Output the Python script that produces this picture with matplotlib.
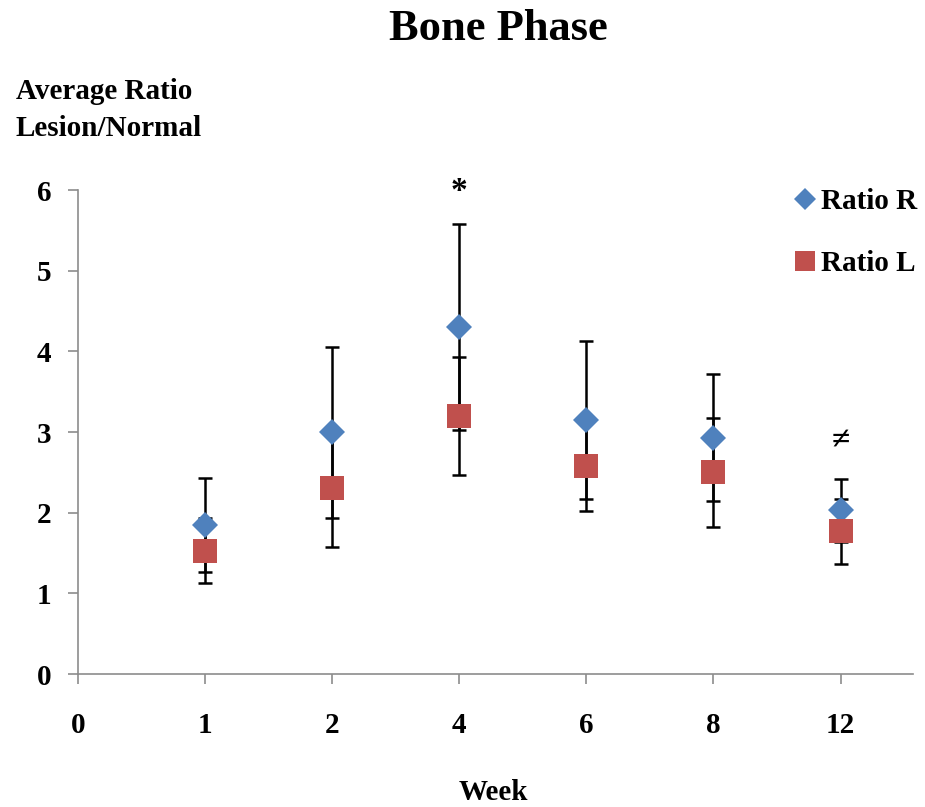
"""Bone Phase: average lesion/normal ratio by week."""

import matplotlib
matplotlib.use("Agg")
import matplotlib.pyplot as plt
from matplotlib.lines import Line2D

# data
week_labels = ["0", "1", "2", "4", "6", "8", "12"]
ratio_r = [1.85, 3.0, 4.3, 3.15, 2.93, 2.03]
ratio_r_err = [0.58, 1.06, 1.28, 0.98, 0.79, 0.39]
ratio_l = [1.53, 2.3, 3.2, 2.58, 2.5, 1.77]
ratio_l_err = [0.40, 0.72, 0.73, 0.56, 0.68, 0.40]
# significance marks: (week index, y, symbol)
marks = [(3, 5.98, "*"), (6, 2.9, "\u2260")]

BLUE = "#4F81BD"
RED = "#C0504D"
AXIS_GRAY = "#8C8C8C"

plt.rcParams["font.family"] = ["Liberation Serif", "DejaVu Serif"]
plt.rcParams["font.weight"] = "bold"


def main() -> None:
    fig = plt.figure(figsize=(9.25, 8.07), dpi=100)
    ax = fig.add_axes([0.0843, 0.1648, 0.9027, 0.5997])

    positions = list(range(1, len(ratio_r) + 1))

    err_style = dict(fmt="none", ecolor="black", elinewidth=1.8,
                     capsize=5, capthick=1.8, zorder=2)
    ax.errorbar(positions, ratio_r, yerr=ratio_r_err, **err_style)
    ax.errorbar(positions, ratio_l, yerr=ratio_l_err, **err_style)

    ax.plot(positions, ratio_r, linestyle="none", marker="D", markersize=13.5,
            color=BLUE, markeredgewidth=0, zorder=3)
    ax.plot(positions, ratio_l, linestyle="none", marker="s", markersize=17,
            color=RED, markeredgewidth=0, zorder=4)

    for idx, y, symbol in marks:
        ax.text(idx, y, symbol, ha="center", va="center", fontsize=24,
                fontweight="bold", clip_on=False)

    ax.set_xlim(0, 6.57)
    ax.set_ylim(0, 6)
    ax.set_xticks(range(len(week_labels)))
    ax.set_xticklabels(week_labels)
    ax.set_yticks(range(0, 7))

    for side in ("top", "right"):
        ax.spines[side].set_visible(False)
    for side in ("left", "bottom"):
        ax.spines[side].set_color(AXIS_GRAY)
        ax.spines[side].set_linewidth(1.2)
    ax.tick_params(axis="both", colors=AXIS_GRAY, length=7, width=1.2,
                   labelsize=21, labelcolor="black")
    ax.tick_params(axis="x", pad=20)
    ax.tick_params(axis="y", pad=12)

    fig.text(0.539, 1 - 29 / 807, "Bone Phase", ha="center", va="center",
             fontsize=32, fontweight="bold")
    fig.text(0.017, 1 - 110 / 807, "Average Ratio\nLesion/Normal", ha="left",
             va="center", fontsize=21, fontweight="bold", linespacing=1.5)
    fig.text(0.533, 1 - 792 / 807, "Week", ha="center", va="center",
             fontsize=21, fontweight="bold")

    handles = [
        Line2D([], [], linestyle="none", marker="D", markersize=11.5,
               color=BLUE, markeredgewidth=0),
        Line2D([], [], linestyle="none", marker="s", markersize=15,
               color=RED, markeredgewidth=0),
    ]
    fig.legend(handles, ["Ratio R", "Ratio L"], loc="upper left",
               bbox_to_anchor=(792 / 925, 1 - 188 / 807), frameon=False,
               fontsize=21, handlelength=0.9, handletextpad=0.1,
               labelspacing=1.2, borderpad=0, borderaxespad=0)

    fig.savefig("out.png", dpi=100)
    plt.close(fig)


if __name__ == "__main__":
    main()
